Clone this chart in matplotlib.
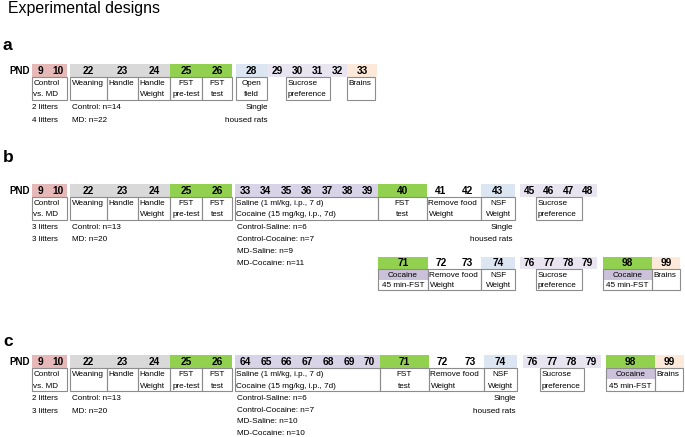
import matplotlib.pyplot as plt
from matplotlib.patches import Rectangle

plt.rcParams['font.family'] = ['Liberation Sans', 'DejaVu Sans']

# colours of the day bands
PINK = '#E6B9B8'
GREY = '#D9D9D9'
GREEN = '#92D050'
BLUE = '#DCE6F2'
LAV = '#D9D3E8'
LAV_L = '#E8E4F0'
PEACH = '#FDE9D9'
WHITE = 'white'
COC = '#CCC1DA'
EDGE = '#8C8C8C'

title = "Experimental designs"
panel_letters = ["a", "b", "c"]

# ---- day labels (PND) per header group, and their colours ----
early_days = [["9", "10"], ["22"], ["23"], ["24"], ["25"], ["26"]]
early_cols = [PINK, GREY, GREY, GREY, GREEN, GREEN]
early_text = [["Control", "vs. MD"], ["Weaning"], ["Handle"], ["Handle", "Weight"],
              ["FST", "pre-test"], ["FST", "test"]]

a_days = early_days + [["28"], ["29", "30", "31", "32"], ["33"]]
a_cols = early_cols + [BLUE, LAV_L, PEACH]
a_text = early_text + [["Open", "field"], ["Sucrose", "preference"], ["Brains"]]
a_litters = ["2 litters", "4 litters"]
a_groups = ["Control: n=14", "MD: n=22"]

b_days = early_days + [["33", "34", "35", "36", "37", "38", "39"], ["40"], ["41", "42"],
                       ["43"], ["45", "46", "47", "48"]]
b_cols = early_cols + [LAV, GREEN, WHITE, BLUE, LAV_L]
b_text = early_text + [["Saline (1 ml/kg, i.p., 7 d)", "Cocaine (15 mg/kg, i.p., 7d)"],
                       ["FST", "test"], ["Remove food", "Weight"], ["NSF", "Weight"],
                       ["Sucrose", "preference"]]
b2_days = [["71"], ["72", "73"], ["74"], ["76", "77", "78", "79"], ["98"], ["99"]]
b2_cols = [GREEN, WHITE, BLUE, LAV_L, GREEN, PEACH]
b2_text = [["Cocaine", "45 min-FST"], ["Remove food", "Weight"], ["NSF", "Weight"],
           ["Sucrose", "preference"], ["Cocaine", "45 min-FST"], ["Brains"]]
b_litters = ["3 litters", "3 litters"]
b_groups = ["Control: n=13", "MD: n=20"]
b_drug_n = ["Control-Saline: n=6", "Control-Cocaine: n=7", "MD-Saline: n=9", "MD-Cocaine: n=11"]

c_days = early_days + [["64", "65", "66", "67", "68", "69", "70"], ["71"], ["72", "73"],
                       ["74"], ["76", "77", "78", "79"], ["98"], ["99"]]
c_cols = early_cols + [LAV, GREEN, WHITE, BLUE, LAV_L, GREEN, PEACH]
c_text = early_text + [["Saline (1 ml/kg, i.p., 7 d)", "Cocaine (15 mg/kg, i.p., 7d)"],
                       ["FST", "test"], ["Remove food", "Weight"], ["NSF", "Weight"],
                       ["Sucrose", "preference"], ["Cocaine", "45 min-FST"], ["Brains"]]
c_litters = ["2 litters", "3 litters"]
c_groups = ["Control: n=13", "MD: n=20"]
c_drug_n = ["Control-Saline: n=6", "Control-Cocaine: n=7", "MD-Saline: n=10", "MD-Cocaine: n=10"]
housing = ["Single", "housed rats"]

# ---- layout (pixels) ----
early_band = [(32, 67), (70, 107), (107, 138), (138, 170), (170, 202), (202, 232)]
early_box = [(32, 67, 'l'), (70, 107, 'l'), (107, 138, 'l'), (138, 170, 'l'),
             (170, 202, 'c'), (202, 232, 'c')]

W, H = 685, 437
fig = plt.figure(figsize=(6.85, 4.37), dpi=100)
ax = fig.add_axes([0, 0, 1, 1])
ax.set_xlim(0, W)
ax.set_ylim(H, 0)
ax.axis('off')

FS = 5.9
DFS = 7.3


def draw_row(y, days, cols, bands, texts, boxes, band_h=12.5, box_h=23, pnd=True, cocaine=()):
    for ds, c, (x0, x1) in zip(days, cols, bands):
        if c != WHITE:
            ax.add_patch(Rectangle((x0, y), x1 - x0, band_h, facecolor=c, edgecolor='none'))
        step = (x1 - x0) / len(ds)
        for i, d in enumerate(ds):
            ax.text(x0 + step * (i + 0.5), y + band_h / 2 + 0.5, d, ha='center', va='center',
                    fontsize=DFS, fontweight='bold')
    if pnd:
        ax.text(30, y + band_h / 2 + 0.5, "PND", ha='right', va='center', fontsize=7, fontweight='bold')
    yb = y + band_h
    for k, (lines, (x0, x1, al)) in enumerate(zip(texts, boxes)):
        if k in cocaine:
            ax.add_patch(Rectangle((x0, yb), x1 - x0, box_h / 2, facecolor=COC, edgecolor='none'))
        ax.add_patch(Rectangle((x0, yb), x1 - x0, box_h, facecolor='none', edgecolor=EDGE, lw=0.8))
        for j, t in enumerate(lines):
            ty = yb + box_h * (0.28 + 0.5 * j) + 0.5
            if al == 'l':
                ax.text(x0 + 1.5, ty, t, ha='left', va='center', fontsize=FS)
            else:
                ax.text((x0 + x1) / 2, ty, t, ha='center', va='center', fontsize=FS)
    return yb + box_h


def notes(x, y0, lines, step, ha='left'):
    for i, t in enumerate(lines):
        ax.text(x, y0 + i * step, t, ha=ha, va='center', fontsize=FS)


ax.text(8, 9, title, ha='left', va='center', fontsize=11.4)
for letter, ly in zip(panel_letters, [46, 157, 342]):
    ax.text(3, ly, letter, ha='left', va='center', fontsize=12.5, fontweight='bold')

# panel a
bot = draw_row(64, a_days, a_cols,
               early_band + [(236, 267), (267, 347), (347, 377)], a_text,
               early_box + [(236, 267, 'c'), (286, 330, 'l'), (347, 375, 'l')])
notes(32, bot + 8, a_litters, 13)
notes(72, bot + 8, a_groups, 13)
notes(268, bot + 8, housing, 13, ha='right')

# panel b
bot = draw_row(184, b_days, b_cols,
               early_band + [(235, 378), (378, 427), (427, 481), (481, 515), (520, 597)], b_text,
               early_box + [(235, 378, 'l'), (378, 427, 'c'), (427, 481, 'l'), (481, 515, 'c'),
                            (536, 582, 'l')])
notes(32, bot + 8, b_litters, 12)
notes(72, bot + 8, b_groups, 12)
notes(237, bot + 8, b_drug_n, 12)
notes(513, bot + 8, housing, 12, ha='right')
draw_row(257, b2_days, b2_cols,
         [(378, 428), (428, 481), (481, 515), (520, 597), (603, 652), (652, 680)], b2_text,
         [(378, 428, 'c'), (428, 481, 'l'), (481, 515, 'c'), (536, 582, 'l'), (603, 652, 'c'),
          (652, 680, 'l')], band_h=12, box_h=21, pnd=False, cocaine=(0, 4))

# panel c
bot = draw_row(355, c_days, c_cols,
               early_band + [(235, 380), (380, 429), (429, 484), (484, 517), (523, 601),
                             (606, 655), (655, 684)], c_text,
               early_box + [(235, 380, 'l'), (380, 429, 'c'), (429, 484, 'l'), (484, 517, 'c'),
                            (540, 584, 'l'), (606, 655, 'c'), (655, 683, 'l')],
               box_h=23.5, cocaine=(11,))
notes(32, bot + 8, c_litters, 12.5)
notes(72, bot + 8, c_groups, 12.5)
notes(237, bot + 8, c_drug_n, 11.4)
notes(516, bot + 8, housing, 12.5, ha='right')

fig.savefig('out.png', dpi=100)
